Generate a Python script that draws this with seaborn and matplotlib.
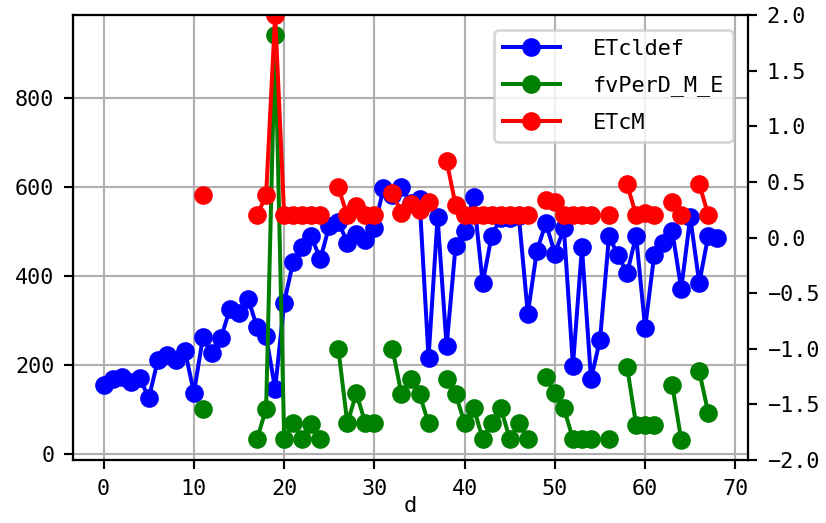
import numpy as np
import pandas as pd
import seaborn as sns
import matplotlib.pyplot as plt
from matplotlib.lines import Line2D

nan = np.nan

# x axis: day index
d = list(range(69))

# left axis
etcldef = [155, 167, 173, 162, 170, 125, 210, 222, 210, 232,
           137, 262, 226, 261, 326, 316, 348, 285, 264, 146,
           340, 432, 465, 490, 437, 513, 522, 475, 495, 480,
           508, 597, 582, 600, 565, 573, 216, 532, 242, 468,
           502, 578, 384, 491, 530, 530, 536, 315, 456, 519,
           450, 507, 198, 464, 168, 256, 490, 446, 406, 490,
           283, 446, 475, 502, 371, 532, 384, 491, 486]

fvperd = [nan, nan, nan, nan, nan, nan, nan, nan, nan, nan,
          nan, 101, nan, nan, nan, nan, nan, 33, 101, 942,
          33, 68, 33, 66, 33, nan, 236, 68, 136, 68,
          68, nan, 236, 134, 168, 134, 68, nan, 168, 134,
          68, 103, 33, 68, 103, 33, 68, 33, nan, 173,
          136, 102, 33, 33, 33, nan, 33, nan, 195, 65,
          65, 65, nan, 155, 31, nan, 185, 91, nan]

# right axis
etcm = [nan, nan, nan, nan, nan, nan, nan, nan, nan, nan,
        nan, 0.38, nan, nan, nan, nan, nan, 0.2, 0.38, 2.0,
        0.2, 0.2, 0.2, 0.2, 0.2, nan, 0.45, 0.2, 0.28, 0.2,
        0.2, nan, 0.40, 0.22, 0.30, 0.25, 0.32, nan, 0.69, 0.29,
        0.2, 0.2, 0.2, 0.2, 0.2, 0.2, 0.2, 0.2, nan, 0.34,
        0.32, 0.2, 0.2, 0.2, 0.2, nan, 0.2, nan, 0.48, 0.2,
        0.22, 0.2, nan, 0.32, 0.2, nan, 0.48, 0.2, nan]


def segments(x, y):
    # split the series at the gaps so the lines break like the original
    df = pd.DataFrame({'d': x, 'v': y})
    df['seg'] = df['v'].isna().cumsum()
    return df.dropna()


plt.rcParams['font.family'] = ['DejaVu Sans Mono']
plt.rcParams['font.size'] = 8.2

fig, ax = plt.subplots(figsize=(826 / 192, 523 / 192), dpi=192)
fig.subplots_adjust(left=73 / 826, right=748 / 826, top=1 - 15 / 523, bottom=1 - 460 / 523)
ax2 = ax.twinx()

style = dict(marker='o', markeredgewidth=1, estimator=None, sort=False, legend=False)
sns.lineplot(data=segments(d, etcldef), x='d', y='v', units='seg', color='blue',
             markeredgecolor='blue', ax=ax, **style)
sns.lineplot(data=segments(d, fvperd), x='d', y='v', units='seg', color='green',
             markeredgecolor='green', ax=ax, **style)
sns.lineplot(data=segments(d, etcm), x='d', y='v', units='seg', color='red',
             markeredgecolor='red', ax=ax2, **style)

ax.grid(True)
ax2.set_ylim(-2, 2)
ax.set_xlabel('d', labelpad=-1)
ax.set_ylabel('')
ax2.set_ylabel('')

handles = [Line2D([], [], color=c, marker='o') for c in ['blue', 'green', 'red']]
ax2.legend(handles, ['ETcldef', 'fvPerD_M_E', 'ETcM'], loc='upper right',
           handlelength=2.6, handletextpad=1.5, labelspacing=0.75, borderaxespad=0.7)

fig.savefig('out.png', dpi=192)
